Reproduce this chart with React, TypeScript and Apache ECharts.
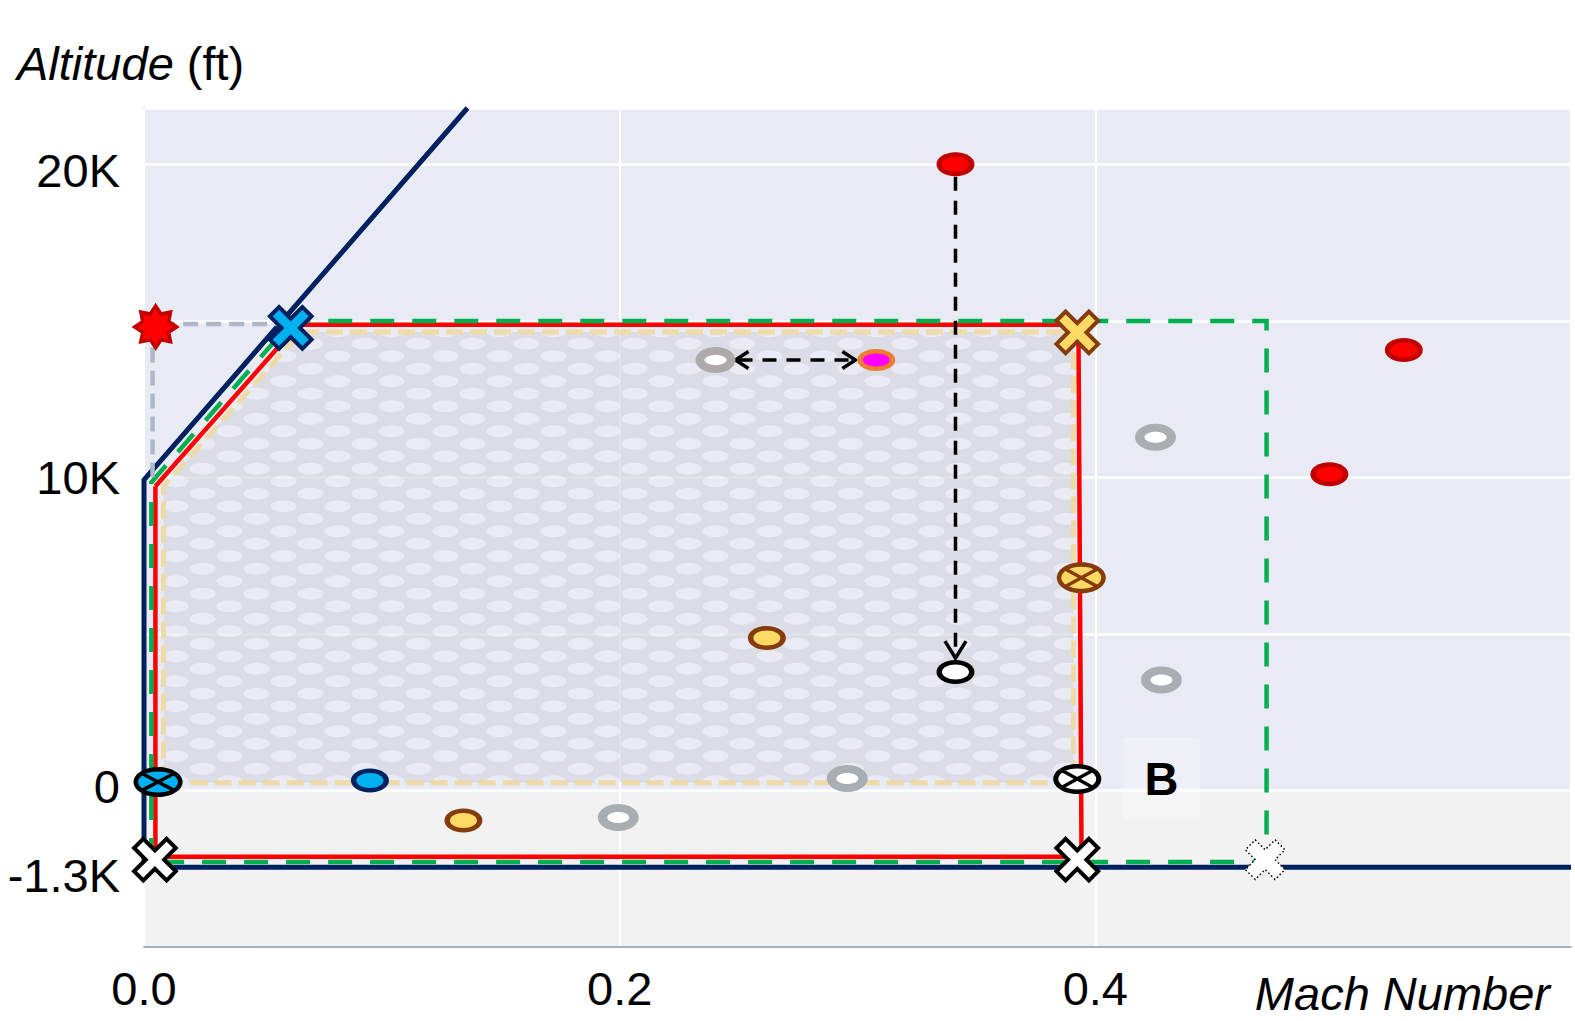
import React, { useEffect, useRef } from 'react';
import * as echarts from 'echarts';

const FONT = '"Liberation Sans", Arial, Helvetica, sans-serif';

// ---------- axes ----------
const X_MIN = 0;
const X_MAX = 0.6;
const X_INTERVAL = 0.2;
const X_TICKS = [0, 0.2, 0.4];
const Y_MIN = -5000;
const Y_MAX = 21800;
const Y_INTERVAL = 5000;
const Y_TICKS_FT = [-1300, 0, 10000, 20000];
const Y_TICK_LABELS = ['-1.3K', '0', '10K', '20K'];
// broken altitude axis: the part below sea level is stretched
const GROUND_FT = -1300;
const GROUND_AXIS = -2450;
const toAxis = (ft: number) => (ft >= 0 ? ft : (ft * GROUND_AXIS) / GROUND_FT);

// ---------- boundary lines (Mach, altitude ft) ----------
const NAVY_MACH = [0.136, 0, 0, 0.6];
const NAVY_ALT = [21800, 9920, -1300, -1300];
const RED_MACH = [0.0048, 0.0648, 0.3929, 0.3942, 0.0048, 0.0048];
const RED_ALT = [9715, 14880, 14880, -1124, -1124, 9715];
const GREEN_MACH = [0.0031, 0.0031, 0.0624, 0.472, 0.472, 0.0031];
const GREEN_ALT = [-1214, 9843, 15000, 15000, -1214, -1214];
const GRAY_MACH = [0.0036, 0.0036, 0.062];
const GRAY_ALT = [10000, 14900, 14900];
const ZONE_MACH = [0.0082, 0.0082, 0.066, 0.3908, 0.3908];
const ZONE_ALT = [250, 9715, 14645, 14645, 250];

// ---------- point markers ----------
const RED_PT_MACH = [0.3412, 0.5297, 0.4984];
const RED_PT_ALT = [20000, 14070, 10100];
const GRAY_WARM_MACH = [0.2403];
const GRAY_WARM_ALT = [13750];
const GRAY_PT_MACH = [0.4253, 0.4278, 0.2957, 0.1994];
const GRAY_PT_ALT = [11282, 3526, 385, -459];
const MAGENTA_MACH = [0.3079];
const MAGENTA_ALT = [13750];
const YELLOW_MACH = [0.2619, 0.1343];
const YELLOW_ALT = [4872, -510];
const BLUE_MACH = [0.095];
const BLUE_ALT = [320];
const WHITE_MACH = [0.3412];
const WHITE_ALT = [3782];
const OX_BLUE_MACH = [0.0059];
const OX_BLUE_ALT = [272];
const OX_BROWN_MACH = [0.3941];
const OX_BROWN_ALT = [6795];
const OX_WHITE_MACH = [0.3924];
const OX_WHITE_ALT = [370];
const X_BLUE_MACH = [0.0617];
const X_BLUE_ALT = [14775];
const X_YELLOW_MACH = [0.3924];
const X_YELLOW_ALT = [14631];
const X_WHITE_MACH = [0.0046, 0.3924];
const X_WHITE_ALT = [-1173, -1173];
const X_DOTTED_MACH = [0.4714];
const X_DOTTED_ALT = [-1173];
const STAR_MACH = [0.0049];
const STAR_ALT = [14807];
const LABEL_B_MACH = [0.4278];
const LABEL_B_ALT = [370];
const LABEL_B_TEXT = ['B'];

// ---------- arrows ----------
const ARROW_FROM_MACH = [0.2487, 0.3412];
const ARROW_FROM_ALT = [13750, 19600];
const ARROW_TO_MACH = [0.2991, 0.3412];
const ARROW_TO_ALT = [13750, 4230];
const ARROW_BOTH_ENDS = [1, 0];

const UPPER_BG = '#E8EAF4';
const LOWER_BG = '#F2F2F2';

const pts = (mach: number[], alt: number[]) => mach.map((m, i) => [m, toAxis(alt[i])]);

function makeDotTile(): string {
  const c = document.createElement('canvas');
  c.width = 54;
  c.height = 25;
  const g = c.getContext('2d') as CanvasRenderingContext2D;
  g.fillStyle = '#D7D9E1';
  g.fillRect(0, 0, 54, 25);
  g.fillStyle = '#E8EAF4';
  const dot = (x: number, y: number) => {
    g.beginPath();
    g.ellipse(x, y, 13, 6, 0, 0, Math.PI * 2);
    g.fill();
  };
  dot(13.5, 6.25);
  dot(40.5, 18.75);
  return c.toDataURL();
}

function lineSeries(name: string, mach: number[], alt: number[], color: string, width: number, type: any, z: number) {
  return {
    name,
    type: 'line',
    data: pts(mach, alt),
    showSymbol: false,
    symbol: 'none',
    clip: true,
    z,
    lineStyle: { color, width, type, cap: 'butt', join: 'miter' },
    silent: true,
  };
}

function ellipseSeries(name: string, mach: number[], alt: number[], st: any) {
  return {
    name,
    type: 'custom',
    z: 5,
    silent: true,
    encode: { x: 0, y: 1 },
    data: pts(mach, alt),
    renderItem: (params: any, api: any) => {
      const [cx, cy] = api.coord([api.value(0), api.value(1)]);
      const children: any[] = [
        { type: 'ellipse', shape: { cx, cy, rx: st.ow / 2, ry: st.oh / 2 }, style: { fill: st.outer } },
        { type: 'ellipse', shape: { cx, cy, rx: st.iw / 2, ry: st.ih / 2 }, style: { fill: st.inner } },
      ];
      if (st.cross) {
        const dx = (st.iw / 2) * 0.8;
        const dy = (st.ih / 2) * 0.8;
        children.push(
          { type: 'line', shape: { x1: cx - dx, y1: cy - dy, x2: cx + dx, y2: cy + dy }, style: { stroke: st.outer, lineWidth: 3.5 } },
          { type: 'line', shape: { x1: cx - dx, y1: cy + dy, x2: cx + dx, y2: cy - dy }, style: { stroke: st.outer, lineWidth: 3.5 } }
        );
      }
      return { type: 'group', children };
    },
  };
}

function xShape(cx: number, cy: number, half: number, arm: number) {
  const base = [
    [-arm, -half], [arm, -half], [arm, -arm], [half, -arm], [half, arm], [arm, arm],
    [arm, half], [-arm, half], [-arm, arm], [-half, arm], [-half, -arm], [-arm, -arm],
  ];
  const c = Math.SQRT1_2;
  return base.map(([x, y]) => [cx + (x - y) * c, cy + (x + y) * c]);
}

function crossSeries(name: string, mach: number[], alt: number[], st: any) {
  return {
    name,
    type: 'custom',
    z: 6,
    silent: true,
    encode: { x: 0, y: 1 },
    data: pts(mach, alt),
    renderItem: (params: any, api: any) => {
      const [cx, cy] = api.coord([api.value(0), api.value(1)]);
      return {
        type: 'polygon',
        shape: { points: xShape(cx, cy, st.half, st.arm) },
        style: { fill: st.fill, stroke: st.stroke, lineWidth: st.lw, lineDash: st.dash || null, lineJoin: 'miter' },
      };
    },
  };
}

function starPoints(cx: number, cy: number, R: number, r: number, n: number) {
  const out: number[][] = [];
  for (let k = 0; k < 2 * n; k++) {
    const a = -Math.PI / 2 + (k * Math.PI) / n;
    const rad = k % 2 === 0 ? R : r;
    out.push([cx + rad * Math.cos(a), cy + rad * Math.sin(a)]);
  }
  return out;
}

function chevron(tip: number[], dir: number[], len: number, half: number) {
  const [dx, dy] = dir;
  const nx = -dy;
  const ny = dx;
  return [
    [tip[0] - dx * len + nx * half, tip[1] - dy * len + ny * half],
    tip,
    [tip[0] - dx * len - nx * half, tip[1] - dy * len - ny * half],
  ];
}

export default function App() {
  const ref = useRef<HTMLDivElement>(null);

  useEffect(() => {
    if (!ref.current) return;
    const chart = echarts.init(ref.current, undefined, { renderer: 'svg' });
    const tile = makeDotTile();
    const yTickAxis = Y_TICKS_FT.map(toAxis);
    // small vertical nudges so the tick labels sit as in the original drawing
    const yLabelStyle = ['lo2', 'up1', 'mid', 'lo1'];

    const option: any = {
      animation: false,
      backgroundColor: '#ffffff',
      grid: { left: 144, right: 4, top: 108, bottom: 74, containLabel: false },
      xAxis: {
        type: 'value',
        min: X_MIN,
        max: X_MAX,
        interval: X_INTERVAL,
        z: 1,
        axisLine: { show: true, onZero: false, lineStyle: { color: '#8497B0', width: 1.5 } },
        axisTick: { show: false },
        axisLabel: {
          customValues: X_TICKS,
          formatter: (v: number) => v.toFixed(1),
          fontSize: 47,
          fontFamily: FONT,
          color: '#000',
          margin: 18,
        },
        splitLine: { show: true, lineStyle: { color: '#ffffff', width: 2 } },
        splitArea: { show: false },
      },
      yAxis: {
        type: 'value',
        min: Y_MIN,
        max: Y_MAX,
        interval: Y_INTERVAL,
        z: 0,
        axisLine: { show: true, onZero: false, lineStyle: { color: '#8497B0', width: 1.5 } },
        axisTick: { show: false },
        axisLabel: {
          customValues: yTickAxis,
          formatter: (v: number) => {
            const i = yTickAxis.findIndex((t) => Math.abs(t - v) < 1);
            return i >= 0 ? `{${yLabelStyle[i]}|${Y_TICK_LABELS[i]}}` : '';
          },
          fontSize: 47,
          fontFamily: FONT,
          color: '#000',
          margin: 24,
          rich: {
            lo2: { fontSize: 47, fontFamily: FONT, color: '#000', padding: [16, 0, 0, 0] },
            lo1: { fontSize: 47, fontFamily: FONT, color: '#000', padding: [12, 0, 0, 0] },
            up1: { fontSize: 47, fontFamily: FONT, color: '#000', padding: [0, 0, 8, 0] },
            mid: { fontSize: 47, fontFamily: FONT, color: '#000' },
          },
        },
        splitLine: { show: true, lineStyle: { color: '#ffffff', width: 2.5 } },
        splitArea: {
          show: true,
          areaStyle: { color: [LOWER_BG, UPPER_BG, UPPER_BG, UPPER_BG, UPPER_BG, UPPER_BG, UPPER_BG] },
        },
      },
      graphic: [
        {
          type: 'text',
          left: 17,
          top: 40,
          silent: true,
          style: {
            text: '{i|Altitude} (ft)',
            fontSize: 47,
            fontFamily: FONT,
            fill: '#000',
            rich: { i: { fontStyle: 'italic', fontSize: 47, fontFamily: FONT, fill: '#000' } },
          },
        },
        {
          type: 'text',
          x: 1550,
          y: 993,
          silent: true,
          style: {
            text: 'Mach Number',
            fontSize: 47,
            lineHeight: 40,
            fontStyle: 'italic',
            fontFamily: FONT,
            fill: '#000',
            align: 'right',
            verticalAlign: 'middle',
          },
        },
      ],
      series: [
        {
          name: 'envelope zone',
          type: 'custom',
          z: 1,
          silent: true,
          encode: { x: 0, y: 1 },
          data: [[ZONE_MACH[0], toAxis(ZONE_ALT[0])]],
          renderItem: (params: any, api: any) => {
            const p = ZONE_MACH.map((m, i) => api.coord([m, toAxis(ZONE_ALT[i])]));
            return {
              type: 'group',
              children: [
                {
                  type: 'polygon',
                  shape: { points: p },
                  style: { fill: { image: tile, imageWidth: 54, imageHeight: 25, repeat: 'repeat' }, opacity: 0.75 },
                },
                {
                  type: 'polygon',
                  shape: { points: p },
                  style: { fill: 'none', stroke: '#EFD9A0', lineWidth: 5, lineDash: [17, 7], opacity: 0.9 },
                },
              ],
            };
          },
        },
        lineSeries('navy', NAVY_MACH, NAVY_ALT, '#002060', 5, 'solid', 2),
        lineSeries('red', RED_MACH, RED_ALT, '#FF0000', 4.5, 'solid', 3),
        lineSeries('green', GREEN_MACH, GREEN_ALT, '#00B050', 4.5, [24, 18], 3),
        lineSeries('gray', GRAY_MACH, GRAY_ALT, '#ADB9CA', 4.5, [15, 8], 3),
        {
          name: 'arrows',
          type: 'custom',
          z: 4,
          silent: true,
          encode: { x: [0, 2], y: [1, 3] },
          data: ARROW_FROM_MACH.map((m, i) => [
            m,
            toAxis(ARROW_FROM_ALT[i]),
            ARROW_TO_MACH[i],
            toAxis(ARROW_TO_ALT[i]),
            ARROW_BOTH_ENDS[i],
          ]),
          renderItem: (params: any, api: any) => {
            const p1 = api.coord([api.value(0), api.value(1)]);
            const p2 = api.coord([api.value(2), api.value(3)]);
            const both = api.value(4) === 1;
            const L = Math.hypot(p2[0] - p1[0], p2[1] - p1[1]);
            const d = [(p2[0] - p1[0]) / L, (p2[1] - p1[1]) / L];
            const len = both ? 13 : 17;
            const half = both ? 8.5 : 10.5;
            const kids: any[] = [
              {
                type: 'line',
                shape: { x1: p1[0] + (both ? d[0] * 3 : 0), y1: p1[1] + (both ? d[1] * 3 : 0), x2: p2[0] - d[0] * 3, y2: p2[1] - d[1] * 3 },
                style: { stroke: '#000', lineWidth: 3.5, lineDash: [14, 10] },
              },
              {
                type: 'polyline',
                shape: { points: chevron(p2, d, len, half) },
                style: { stroke: '#000', lineWidth: 3.5, fill: 'none' },
              },
            ];
            if (both) {
              kids.push({
                type: 'polyline',
                shape: { points: chevron(p1, [-d[0], -d[1]], len, half) },
                style: { stroke: '#000', lineWidth: 3.5, fill: 'none' },
              });
            }
            return { type: 'group', children: kids };
          },
        },
        ellipseSeries('red points', RED_PT_MACH, RED_PT_ALT, { outer: '#C00000', inner: '#FF0000', ow: 38, oh: 24, iw: 27, ih: 15 }),
        ellipseSeries('gray warm', GRAY_WARM_MACH, GRAY_WARM_ALT, { outer: '#AEAAAA', inner: '#FFFFFF', ow: 40, oh: 26, iw: 22, ih: 10 }),
        ellipseSeries('gray points', GRAY_PT_MACH, GRAY_PT_ALT, { outer: '#A9AEB3', inner: '#FFFFFF', ow: 41, oh: 27, iw: 22, ih: 11 }),
        ellipseSeries('magenta', MAGENTA_MACH, MAGENTA_ALT, { outer: '#ED7D31', inner: '#FF00FF', ow: 38, oh: 22, iw: 27, ih: 13 }),
        ellipseSeries('yellow', YELLOW_MACH, YELLOW_ALT, { outer: '#843C0C', inner: '#FFD966', ow: 38, oh: 24, iw: 27, ih: 15 }),
        ellipseSeries('blue', BLUE_MACH, BLUE_ALT, { outer: '#002060', inner: '#00B0F0', ow: 38, oh: 24, iw: 27, ih: 15 }),
        ellipseSeries('white', WHITE_MACH, WHITE_ALT, { outer: '#000000', inner: '#FFFFFF', ow: 38, oh: 24, iw: 27, ih: 15 }),
        ellipseSeries('ox blue', OX_BLUE_MACH, OX_BLUE_ALT, { outer: '#000000', inner: '#00B0F0', ow: 49, oh: 30, iw: 40, ih: 21, cross: true }),
        ellipseSeries('ox brown', OX_BROWN_MACH, OX_BROWN_ALT, { outer: '#843C0C', inner: '#FFD966', ow: 49, oh: 31, iw: 40, ih: 22, cross: true }),
        ellipseSeries('ox white', OX_WHITE_MACH, OX_WHITE_ALT, { outer: '#000000', inner: '#FFFFFF', ow: 48, oh: 30, iw: 38, ih: 21, cross: true }),
        crossSeries('x blue', X_BLUE_MACH, X_BLUE_ALT, { fill: '#00B0F0', stroke: '#002060', lw: 4, half: 23, arm: 6.5 }),
        crossSeries('x yellow', X_YELLOW_MACH, X_YELLOW_ALT, { fill: '#FFD966', stroke: '#843C0C', lw: 4, half: 23, arm: 6.5 }),
        crossSeries('x white', X_WHITE_MACH, X_WHITE_ALT, { fill: '#FFFFFF', stroke: '#000000', lw: 4, half: 23, arm: 6.5 }),
        crossSeries('x dotted', X_DOTTED_MACH, X_DOTTED_ALT, { fill: '#FFFFFF', stroke: '#000000', lw: 1.5, half: 21, arm: 7, dash: [1.5, 2.5] }),
        {
          name: 'star',
          type: 'custom',
          z: 6,
          silent: true,
          encode: { x: 0, y: 1 },
          data: pts(STAR_MACH, STAR_ALT),
          renderItem: (params: any, api: any) => {
            const [cx, cy] = api.coord([api.value(0), api.value(1)]);
            return {
              type: 'polygon',
              shape: { points: starPoints(cx, cy, 21, 14, 8) },
              style: { fill: '#FF0000', stroke: '#C00000', lineWidth: 3.5, lineJoin: 'miter' },
            };
          },
        },
        {
          name: 'label B',
          type: 'scatter',
          z: 3,
          silent: true,
          symbol: 'rect',
          symbolSize: [77, 82],
          itemStyle: { color: 'rgba(255,255,255,0.25)', opacity: 1 },
          data: pts(LABEL_B_MACH, LABEL_B_ALT).map((p, i) => ({ value: p, name: LABEL_B_TEXT[i] })),
          label: {
            show: true,
            position: 'inside',
            formatter: (p: any) => p.name,
            fontSize: 47,
            fontWeight: 'bold',
            fontFamily: FONT,
            color: '#000000',
            opacity: 1,
          },
        },
      ],
    };

    chart.setOption(option);
    return () => {
      chart.dispose();
    };
  }, []);

  return (
    <div
      ref={ref}
      style={{ position: 'absolute', left: 0, top: 0, width: 1575, height: 1021 }}
    />
  );
}
